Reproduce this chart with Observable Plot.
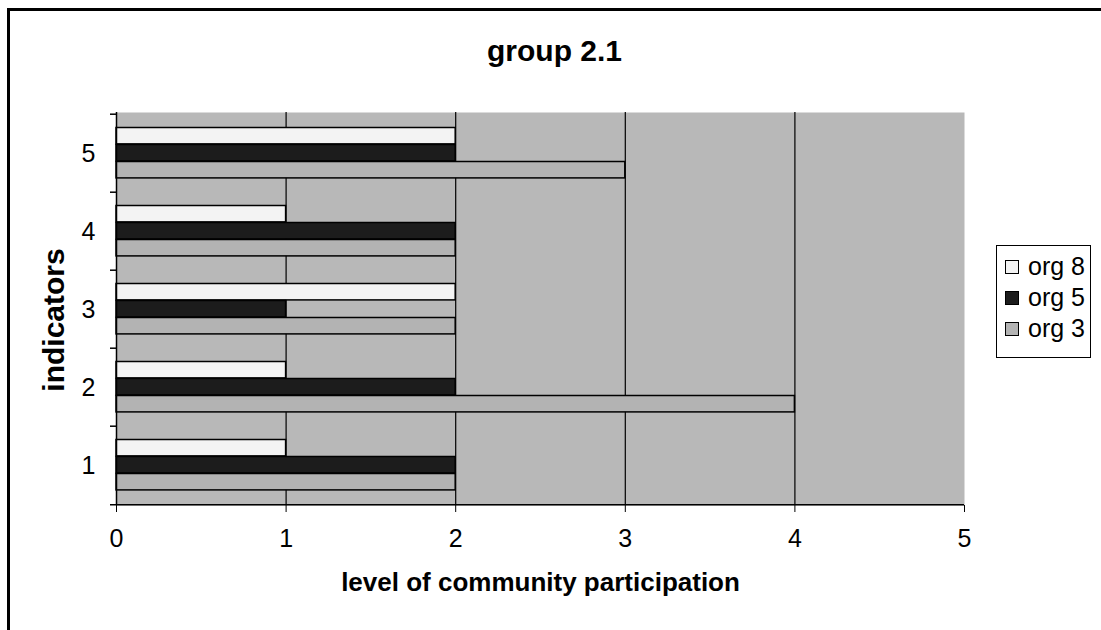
<!DOCTYPE html>
<html>
<head>
<meta charset="utf-8">
<script src="https://cdn.jsdelivr.net/npm/d3@7"></script>
<script src="https://cdn.jsdelivr.net/npm/@observablehq/plot@0.6"></script>
<style>
  body { margin: 0; background: #fff; font-family: "Liberation Sans", Arial, sans-serif; }
  #wrap { position: relative; width: 1101px; height: 630px; overflow: hidden; }
  #border { position: absolute; left: 7px; top: 8px; width: 1100px; height: 700px;
            border-left: 3px solid #000; border-top: 3px solid #000; }
  #title { position: absolute; left: 8px; width: 1093px; top: 36px; text-align: center;
           font-weight: bold; font-size: 30px; line-height: 30px; color: #000; }
  #chart { position: absolute; left: 0; top: 0; }
  #legend { position: absolute; left: 996px; top: 245px; width: 93px; height: 106px;
            border: 1px solid #000; background: #fff; padding-top: 5px; box-sizing: content-box; }
  .item { height: 31px; display: flex; align-items: center; font-size: 25px; color: #000; }
  .sw { width: 12px; height: 12px; border: 1px solid #000; margin-left: 8px; margin-right: 9px; }
</style>
</head>
<body>
<div id="wrap">
  <div id="border"></div>
  <div id="title"></div>
  <div id="chart"></div>
  <div id="legend"></div>
</div>
<script>
// ---- data ----
const title = "group 2.1";
const xLabel = "level of community participation";
const yLabel = "indicators";
const indicators = ["1", "2", "3", "4", "5"];
const seriesNames = ["org 8", "org 5", "org 3"];
const org8 = [1, 1, 2, 1, 2];
const org5 = [2, 2, 1, 2, 2];
const org3 = [2, 4, 2, 2, 3];
const xTicks = [0, 1, 2, 3, 4, 5];
const gridTicks = [1, 2, 3, 4];
const seriesColors = ["#f3f3f3", "#1c1c1c", "#b3b3b3"];

// ---- layout ----
const W = 1101, H = 630, mL = 116, mR = 137, mT = 112, mB = 125;
const bw = (H - mT - mB) / indicators.length;
const barH = 17, gapTop = 13.5;

const seriesValues = [org8, org5, org3];
const topDown = indicators.slice().reverse();

const barMarks = seriesValues.map((vals, s) =>
  Plot.barX(indicators.map((k, i) => ({k, v: vals[i]})), {
    y: "k", x: "v",
    fill: seriesColors[s], stroke: "#000", strokeWidth: 1.5,
    insetTop: gapTop + s * barH,
    insetBottom: bw - gapTop - (s + 1) * barH
  })
);

const chart = Plot.plot({
  width: W, height: H,
  marginLeft: mL, marginRight: mR, marginTop: mT, marginBottom: mB,
  style: {fontFamily: "Liberation Sans, Arial, sans-serif", fontSize: "25px", color: "#000", background: "transparent", overflow: "visible"},
  x: {domain: [0, 5]},
  y: {domain: topDown, padding: 0},
  marks: [
    Plot.frame({fill: "#b8b8b8", stroke: null}),
    Plot.ruleX(gridTicks, {stroke: "#000", strokeWidth: 1.2}),
    ...barMarks,
    Plot.ruleX([0], {stroke: "#000", strokeWidth: 1.5}),
    Plot.ruleY(indicators, {y: d => d, x1: 0, x2: 0, insetLeft: -6, dy: -bw / 2, stroke: "#000", strokeWidth: 1.5}),
    Plot.ruleY([indicators[0]], {y: d => d, x1: 0, x2: 5, insetLeft: -6, dy: bw / 2, stroke: "#000", strokeWidth: 1.5}),
    Plot.axisX({ticks: xTicks, tickSize: 7, tickPadding: 17, tickFormat: d => String(d), label: null}),
    Plot.axisY({tickSize: 0, tickPadding: 21, label: null}),
    Plot.text([xLabel], {text: d => d, frameAnchor: "bottom", dy: 85, lineAnchor: "bottom",
                         fontWeight: "bold", fontSize: 26, fill: "#000"}),
    Plot.text([yLabel], {text: d => d, frameAnchor: "left", rotate: -90, dx: -74, dy: 11,
                         textAnchor: "middle", lineAnchor: "top",
                         fontWeight: "bold", fontSize: 30, fill: "#000"})
  ]
});
document.getElementById("chart").appendChild(chart);
document.getElementById("title").textContent = title;

const legend = document.getElementById("legend");
seriesNames.forEach((name, s) => {
  const row = document.createElement("div");
  row.className = "item";
  const sw = document.createElement("div");
  sw.className = "sw";
  sw.style.background = seriesColors[s];
  row.appendChild(sw);
  row.appendChild(document.createTextNode(name));
  legend.appendChild(row);
});
</script>
</body>
</html>
